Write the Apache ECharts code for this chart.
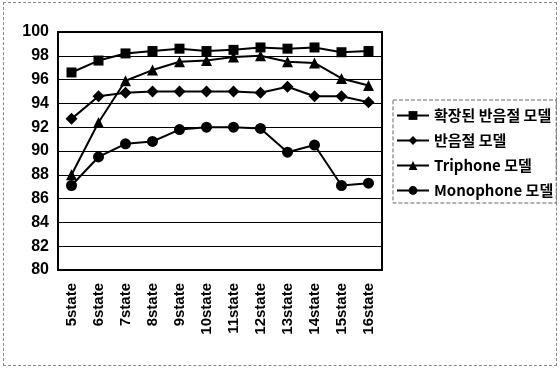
<!DOCTYPE html>
<html><head><meta charset="utf-8">
<script src="https://cdn.jsdelivr.net/npm/echarts@6/dist/echarts.min.js"></script>
<style>
html,body{margin:0;padding:0;background:#fff;}
#frame{position:absolute;left:3px;top:2px;width:552px;height:362px;border:1px dashed #888;}
#chart{position:absolute;left:0;top:0;width:560px;height:369px;}
</style></head>
<body>
<div id="frame"></div>
<div id="chart"></div>
<script>
const categories = ['5state','6state','7state','8state','9state','10state','11state','12state','13state','14state','15state','16state'];
const extendedDemi = [96.6, 97.6, 98.2, 98.4, 98.6, 98.4, 98.5, 98.7, 98.6, 98.7, 98.3, 98.4];
const demiSyllable = [92.7, 94.6, 94.9, 95.0, 95.0, 95.0, 95.0, 94.9, 95.4, 94.6, 94.6, 94.1];
const triphone     = [88.0, 92.4, 95.9, 96.8, 97.5, 97.6, 97.9, 98.0, 97.5, 97.4, 96.1, 95.5];
const monophone    = [87.1, 89.5, 90.6, 90.8, 91.8, 92.0, 92.0, 91.9, 89.9, 90.5, 87.1, 87.3];
const seriesNames = ['확장된 반음절 모델', '반음절 모델', 'Triphone 모델', 'Monophone 모델'];
const yTicks = { min: 80, max: 100, interval: 2 };

const chart = echarts.init(document.getElementById('chart'));
const font = 'Liberation Sans, Arial, sans-serif';
function line(name, data, symbol, size) {
  return {
    name, type: 'line', data, symbol, symbolSize: size,
    itemStyle: { color: '#000' },
    lineStyle: { color: '#000', width: 2 },
    animation: false
  };
}
chart.setOption({
  animation: false,
  grid: { left: 58, top: 32, width: 324, height: 238, show: true, borderColor: '#000', borderWidth: 2, backgroundColor: 'transparent' },
  legend: {
    orient: 'vertical', left: 393, top: 100,
    itemWidth: 32, itemHeight: 11, itemGap: 10,
    padding: [8, 3, 5, 3],
    borderColor: '#666', borderWidth: 1, borderType: 'dashed',
    textStyle: { fontFamily: 'Noto Sans CJK KR, ' + font, fontSize: 15, fontWeight: 'bold', color: '#000' },
    data: seriesNames.map(n => ({ name: n }))
  },
  xAxis: {
    type: 'category', data: categories, boundaryGap: true,
    axisLine: { lineStyle: { color: '#000', width: 2 } },
    axisTick: { inside: true, length: 4, lineStyle: { color: '#000' } },
    axisLabel: { rotate: 90, margin: 13, fontFamily: font, fontWeight: 'bold', fontSize: 15, color: '#000' }
  },
  yAxis: {
    type: 'value', min: yTicks.min, max: yTicks.max, interval: yTicks.interval,
    axisLine: { show: true, lineStyle: { color: '#000', width: 2 } },
    axisTick: { show: false },
    splitLine: { lineStyle: { color: '#000', width: 1 } },
    axisLabel: { margin: 9, fontFamily: font, fontWeight: 'bold', fontSize: 16, color: '#000' }
  },
  series: [
    line(seriesNames[0], extendedDemi, 'rect', 10),
    line(seriesNames[1], demiSyllable, 'diamond', 12),
    line(seriesNames[2], triphone, 'triangle', 11),
    line(seriesNames[3], monophone, 'circle', 11)
  ]
});
</script>
</body></html>
